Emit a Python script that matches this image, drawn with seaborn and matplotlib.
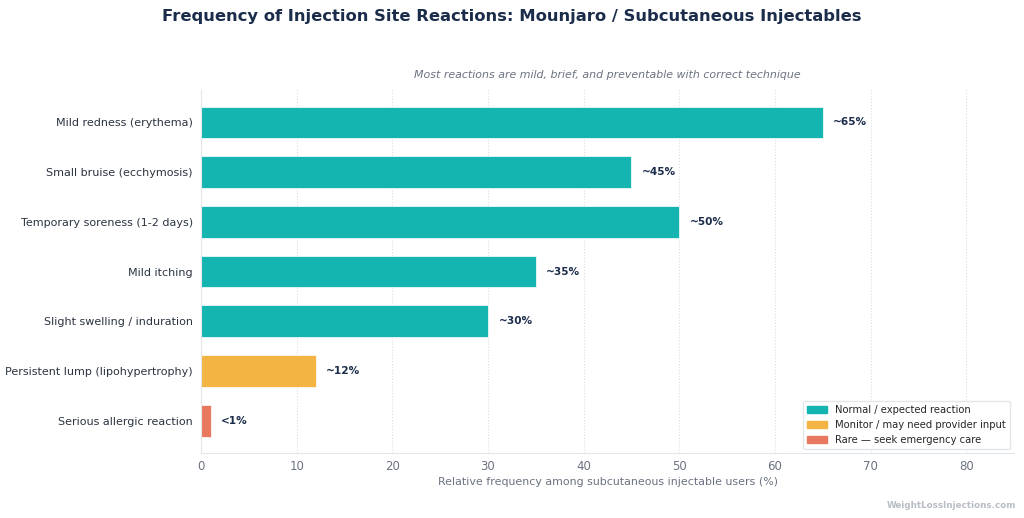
import matplotlib
matplotlib.use("Agg")
import matplotlib.pyplot as plt
import seaborn as sns
import pandas as pd
from matplotlib.patches import Patch

# --- data ---
reactions = [
    "Mild redness (erythema)",
    "Small bruise (ecchymosis)",
    "Temporary soreness (1-2 days)",
    "Mild itching",
    "Slight swelling / induration",
    "Persistent lump (lipohypertrophy)",
    "Serious allergic reaction",
]
frequency = [65, 45, 50, 35, 30, 12, 1]
value_labels = ["~65%", "~45%", "~50%", "~35%", "~30%", "~12%", "<1%"]
category = ["normal", "normal", "normal", "normal", "normal", "monitor", "rare"]

COLORS = {"normal": "#14b5b0", "monitor": "#f3b443", "rare": "#e8785e"}
LEGEND_LABELS = {
    "normal": "Normal / expected reaction",
    "monitor": "Monitor / may need provider input",
    "rare": "Rare \u2014 seek emergency care",
}
NAVY = "#1b2d4b"
GREY = "#6b7280"

df = pd.DataFrame({"reaction": reactions, "freq": frequency, "cat": category})

sns.set_style("white")
plt.rcParams["font.family"] = ["DejaVu Sans"]

fig = plt.figure(figsize=(10.24, 5.18), dpi=100)
ax = fig.add_axes([0.1963, 0.1255, 0.794, 0.7005])

sns.barplot(data=df, x="freq", y="reaction", hue="cat", palette=COLORS,
            dodge=False, width=0.64, legend=False, ax=ax, saturation=1,
            edgecolor="white", linewidth=0.5)

for i, (v, lab) in enumerate(zip(frequency, value_labels)):
    ax.text(v + 1.1, i, lab, va="center", ha="left", fontsize=7.6,
            fontweight="bold", color=NAVY)

ax.set_xlim(0, 85)
ax.set_ylim(6.65, -0.65)
ax.set_xticks(range(0, 81, 10))
ax.set_ylabel("")
ax.set_xlabel("Relative frequency among subcutaneous injectable users (%)",
              fontsize=7.9, color=GREY, labelpad=3)
ax.tick_params(axis="x", labelsize=8.5, colors=GREY, length=3, color="#d0d4da", pad=2)
ax.tick_params(axis="y", labelsize=8.0, colors="#2b3440", length=0, pad=6)
ax.xaxis.grid(True, linestyle=":", color="#d8dce2", linewidth=0.8)
ax.set_axisbelow(True)
for s in ["top", "right"]:
    ax.spines[s].set_visible(False)
ax.spines["left"].set_color("#e3e6ea")
ax.spines["bottom"].set_color("#e3e6ea")

handles = [Patch(color=COLORS[k], label=LEGEND_LABELS[k]) for k in ["normal", "monitor", "rare"]]
ax.legend(handles=handles, loc="lower right", fontsize=7.2, frameon=True,
          edgecolor="#e3e6ea", framealpha=1, handlelength=2.0,
          borderaxespad=0.4)

fig.suptitle("Frequency of Injection Site Reactions: Mounjaro / Subcutaneous Injectables",
             x=0.5, y=0.983, fontsize=11.8, fontweight="bold", color=NAVY)
ax.set_title("Most reactions are mild, brief, and preventable with correct technique",
             fontsize=7.9, style="italic", color=GREY, pad=9)
fig.text(0.992, 0.015, "WeightLossInjections.com", ha="right", va="bottom",
         fontsize=6.3, fontweight="bold", color="#b8bcc4")

fig.savefig("out.png", dpi=100)
